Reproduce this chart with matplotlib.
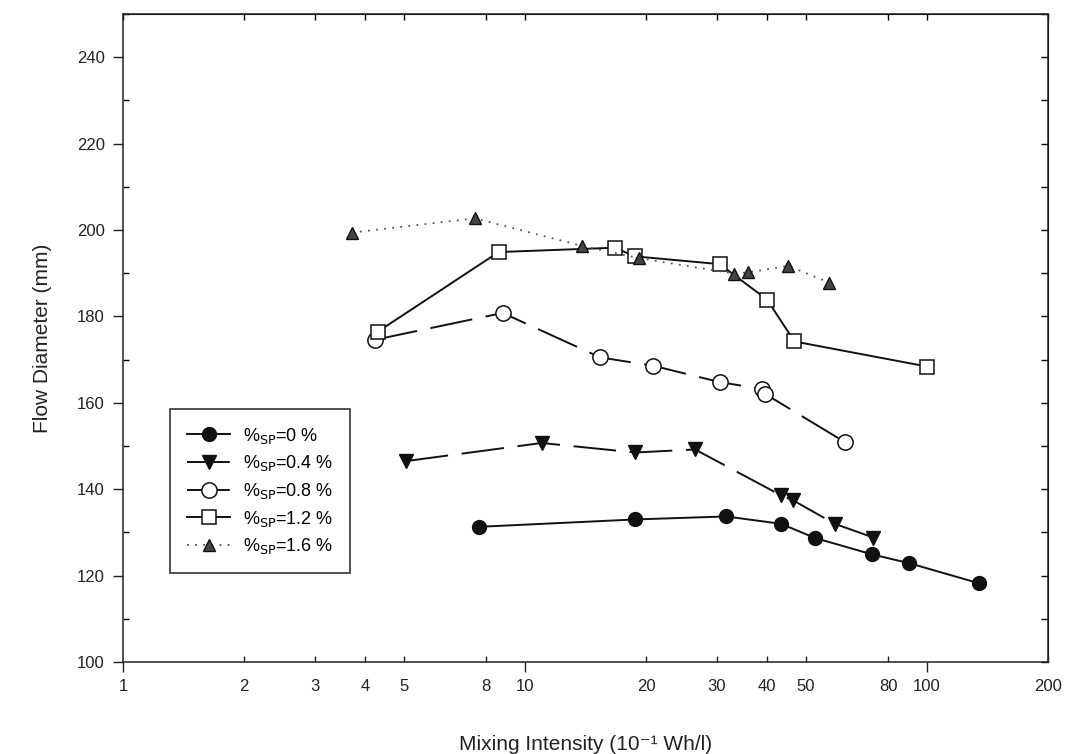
import numpy as np
import matplotlib
matplotlib.use("Agg")
import matplotlib.pyplot as plt
from matplotlib.ticker import FixedLocator, NullFormatter, FixedFormatter, MultipleLocator

plt.rcParams['font.family'] = ['Liberation Sans', 'DejaVu Sans']

# data (x: mixing intensity, y: flow diameter)
sp0_x = [7.7, 18.8, 31.6, 43.3, 52.7, 73.1, 90.1, 135.0]
sp0_y = [131.3, 133.0, 133.7, 132.0, 128.7, 124.9, 122.9, 118.2]

sp04_x = [5.05, 11.0, 18.8, 26.5, 43.3, 46.5, 58.9, 73.6]
sp04_y = [146.5, 150.7, 148.5, 149.2, 138.6, 137.4, 132.0, 128.8]

sp08_x = [4.24, 8.8, 15.4, 20.8, 30.5, 38.8, 39.5, 62.5]
sp08_y = [174.6, 180.8, 170.5, 168.6, 164.8, 163.2, 162.1, 150.9]

sp12_x = [4.31, 8.6, 16.7, 18.8, 30.5, 40.0, 46.8, 100.0]
sp12_y = [176.5, 194.9, 195.9, 193.9, 192.1, 183.9, 174.2, 168.4]

sp16_x = [3.71, 7.5, 13.9, 19.2, 33.2, 35.9, 45.2, 57.2]
sp16_y = [199.4, 202.7, 196.3, 193.5, 189.9, 190.2, 191.7, 187.8]

labels = [r'%$_{\rm SP}$=0 %', r'%$_{\rm SP}$=0.4 %', r'%$_{\rm SP}$=0.8 %',
          r'%$_{\rm SP}$=1.2 %', r'%$_{\rm SP}$=1.6 %']

x_major = [1, 10, 100]
x_minor = [2, 3, 4, 5, 8, 20, 30, 40, 50, 80, 200]
y_ticks = [100, 120, 140, 160, 180, 200, 220, 240]

fig = plt.figure(figsize=(10.75, 7.54), dpi=100)
ax = fig.add_axes([0.1144, 0.122, 0.8605, 0.8594])

ink = '#111111'
dash = (0, (22, 7))

ax.plot(sp0_x, sp0_y, '-', color=ink, lw=1.4, marker='o', ms=10,
        mfc=ink, mec=ink, label=labels[0])
ax.plot(sp04_x, sp04_y, linestyle=dash, color=ink, lw=1.4, marker='v', ms=10,
        mfc=ink, mec=ink, label=labels[1])
ax.plot(sp08_x, sp08_y, linestyle=dash, color=ink, lw=1.4, marker='o', ms=11,
        mfc='white', mec=ink, mew=1.1, label=labels[2])
ax.plot(sp12_x, sp12_y, '-', color=ink, lw=1.4, marker='s', ms=10,
        mfc='white', mec=ink, mew=1.1, label=labels[3])
ax.plot(sp16_x, sp16_y, linestyle=(0, (1, 3.5)), color='#555555', lw=1.3,
        marker='^', ms=9, mfc='#444444', mec=ink, label=labels[4])

ax.set_xscale('log')
ax.set_xlim(1, 200)
ax.set_ylim(100, 250)

# decades tick outward, the rest inward; labels kept on one baseline
ax.xaxis.set_major_locator(FixedLocator(x_major))
ax.xaxis.set_major_formatter(FixedFormatter([str(v) for v in x_major]))
ax.xaxis.set_minor_locator(FixedLocator(x_minor))
ax.xaxis.set_minor_formatter(FixedFormatter([str(v) for v in x_minor]))
ax.tick_params(axis='x', which='major', direction='out', length=7, width=1,
               labelsize=12, pad=5, colors='#222222')
ax.tick_params(axis='x', which='minor', direction='in', length=4, width=1,
               labelsize=12, pad=12, colors='#222222')

ax.yaxis.set_major_locator(FixedLocator(y_ticks))
ax.yaxis.set_minor_locator(MultipleLocator(10))
ax.yaxis.set_minor_formatter(NullFormatter())
ax.tick_params(axis='y', which='major', direction='out', length=7, width=1,
               labelsize=12, pad=6, colors='#222222')
ax.tick_params(axis='y', which='minor', direction='in', length=4, width=1)

# right and top spines carry inward ticks only
sec_y = ax.secondary_yaxis('right')
sec_y.yaxis.set_major_locator(MultipleLocator(10))
sec_y.tick_params(direction='in', length=5, width=1, labelright=False)
sec_x = ax.secondary_xaxis('top')
sec_x.xaxis.set_major_locator(FixedLocator(x_major + x_minor))
sec_x.xaxis.set_minor_locator(FixedLocator([]))
sec_x.tick_params(which='both', direction='in', length=4, width=1, labeltop=False)

for s in ax.spines.values():
    s.set_color('#222222')
    s.set_linewidth(1.1)

ax.set_xlabel('Mixing Intensity (10\u207b\u00b9 Wh/l)', fontsize=15,
              color='#222222', labelpad=30)
ax.set_ylabel('Flow Diameter (mm)', fontsize=15, color='#222222', labelpad=18)

leg = ax.legend(loc='lower left', bbox_to_anchor=(0.0508, 0.137),
                borderaxespad=0, fancybox=False, framealpha=1,
                edgecolor='#222222', fontsize=13, handlelength=2.4,
                labelspacing=0.42, borderpad=0.95, handletextpad=0.7)
leg.get_frame().set_linewidth(1.1)

fig.savefig('out.png', dpi=100)
